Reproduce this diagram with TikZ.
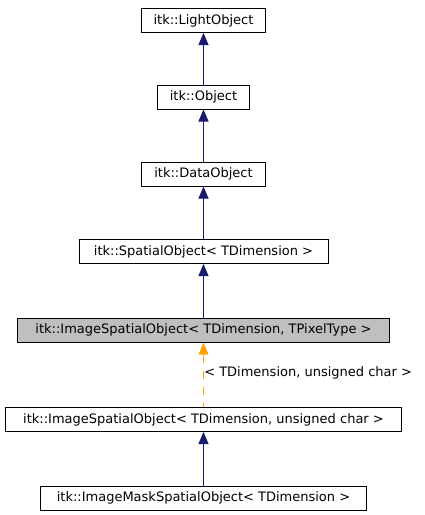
\documentclass[tikz,border=0pt]{standalone}
\usepackage{fontspec}
\setmainfont{DejaVu Sans}
\usetikzlibrary{arrows.meta}
\definecolor{edgeblue}{HTML}{191970}
\definecolor{edgeorange}{HTML}{FFA500}
\tikzstyle{cls}=[rectangle,draw=black,line width=1pt,minimum height=24pt,inner sep=0pt,font=\fontsize{13}{15}\selectfont]
\tikzstyle{inh}=[edgeblue,line width=1pt,-{Triangle[length=12pt,width=10pt]}]
\tikzstyle{tmpl}=[edgeorange,line width=1.5pt,dash pattern=on 8pt off 8pt,dash phase=4pt,-{Triangle[length=12pt,width=10pt,line width=0pt]}]

\begin{document}
\begin{tikzpicture}[x=1pt,y=-1pt]
\useasboundingbox (0,0) rectangle (424,515);
\node[cls,minimum width=124pt] (light) at (203.5,20.5) {itk::LightObject};
\node[cls,minimum width=92pt] (obj) at (203.5,97) {itk::Object};
\node[cls,minimum width=124pt] (data) at (203.5,174) {itk::DataObject};
\node[cls,minimum width=249pt] (spatial) at (203.5,251.5) {itk::SpatialObject< TDimension >};
\node[cls,fill=black!25,minimum width=372pt] (image) at (203.5,330) {itk::ImageSpatialObject< TDimension, TPixelType >};
\node[cls,minimum width=396pt] (imguc) at (203.5,419.5) {itk::ImageSpatialObject< TDimension, unsigned char >};
\node[cls,minimum width=326pt] (mask) at (203.5,498) {itk::ImageMaskSpatialObject< TDimension >};
\draw[inh] (obj) -- (light);
\draw[inh] (data) -- (obj);
\draw[inh] (spatial) -- (data);
\draw[inh] (image) -- (spatial);
\draw[tmpl] (imguc) -- (image) node[midway,anchor=west,inner sep=0pt,text=black,font=\fontsize{13}{15}\selectfont,yshift=1.5pt] {< TDimension, unsigned char >};
\draw[inh] (mask) -- (imguc);
\end{tikzpicture}
\end{document}
